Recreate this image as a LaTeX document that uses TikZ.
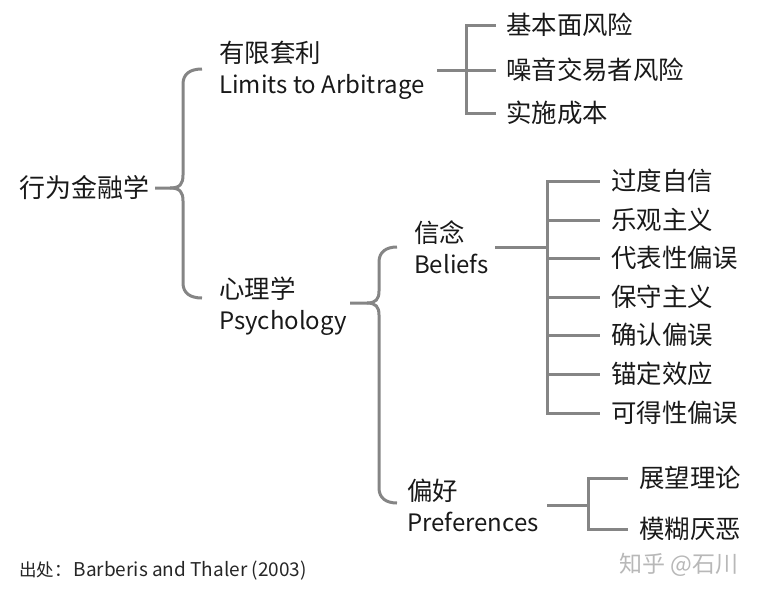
\documentclass[tikz,border=0pt]{standalone}
\usepackage{fontspec}
\setmainfont{Noto Sans CJK SC}
\newfontfamily\cjk[Scale=1.06]{Noto Sans CJK SC}
\begin{document}
\begin{tikzpicture}[x=1pt,y=-1pt,
  ln/.style={draw=black!48,line width=3pt},
  lbl/.style={anchor=west,inner sep=0pt,text=black!90,font=\fontsize{24}{31}\selectfont,align=left},
  leaf/.style={anchor=west,inner sep=0pt,text=black!90,font=\fontsize{24}{30}\selectfont\cjk}]
\useasboundingbox (0,0) rectangle (759,595);
% nodes
\node[lbl,font=\fontsize{24.5}{30}\selectfont\cjk] (root) at (19,188) {行为金融学};
\node[lbl] (lim) at (219,70) {{\cjk 有限套利}\\Limits to Arbitrage};
\node[lbl] (psy) at (219,306) {{\cjk 心理学}\\Psychology};
\node[lbl] (bel) at (414,247) {{\cjk 信念}\\Beliefs};
\node[lbl] (pref) at (407,505) {{\cjk 偏好}\\Preferences};
\node[leaf] (k1) at (506,25) {基本面风险};
\node[leaf] (k2) at (506,70) {噪音交易者风险};
\node[leaf] (k3) at (506,113) {实施成本};
\node[leaf] (b1) at (611,181) {过度自信};
\node[leaf] (b2) at (611,220) {乐观主义};
\node[leaf] (b3) at (611,258) {代表性偏误};
\node[leaf] (b4) at (611,297) {保守主义};
\node[leaf] (b5) at (611,335) {确认偏误};
\node[leaf] (b6) at (611,374) {锚定效应};
\node[leaf] (b7) at (611,413) {可得性偏误};
\node[leaf] (p1) at (639,478) {展望理论};
\node[leaf] (p2) at (639,529) {模糊厌恶};
\node[anchor=west,inner sep=0pt,text=black!85,font=\fontsize{19}{22}\selectfont] (src) at (19,571) {{\fontsize{17.5}{22}\selectfont 出处：}\hspace{2pt}Barberis and Thaler (2003)};
\node[anchor=west,inner sep=0pt,text=black!28,font=\fontsize{23}{26}\selectfont] (wm) at (619,565) {知乎 @石川};
% brace 1
\coordinate (c1) at (170,188);
\draw[ln] (155,188) -- (c1) .. controls (180,188) and (183,184) .. (183,175) -- (183,84) .. controls (183,74) and (190,69) .. (202,69);
\draw[ln] (c1) .. controls (180,188) and (183,192) .. (183,201) -- (183,283) .. controls (183,293) and (190,298) .. (202,298);
% brace 2
\coordinate (c2) at (367,303);
\draw[ln] (350,303) -- (c2) .. controls (376,303) and (379,299) .. (379,291) -- (379,262) .. controls (379,252) and (386,247) .. (397,247);
\draw[ln] (c2) .. controls (376,303) and (379,307) .. (379,315) -- (379,488) .. controls (379,498) and (386,503) .. (397,503);
% limits tree
\coordinate (j1) at (466,70);
\draw[ln] (437,70) -- (j1);
\foreach \k in {k1,k2,k3} \draw[ln] (j1) |- ([xshift=-10pt]\k.west);
% beliefs tree
\coordinate (j2) at (547,247);
\draw[ln] (495,247) -- (j2);
\foreach \k in {b1,b2,b3,b4,b5,b6,b7} \draw[ln] (j2) |- ([xshift=-11pt]\k.west);
% preferences tree
\coordinate (j3) at (588,505);
\draw[ln] (547,505) -- (j3);
\foreach \k in {p1,p2} \draw[ln] (j3) |- ([xshift=-11pt]\k.west);
\end{tikzpicture}
\end{document}
